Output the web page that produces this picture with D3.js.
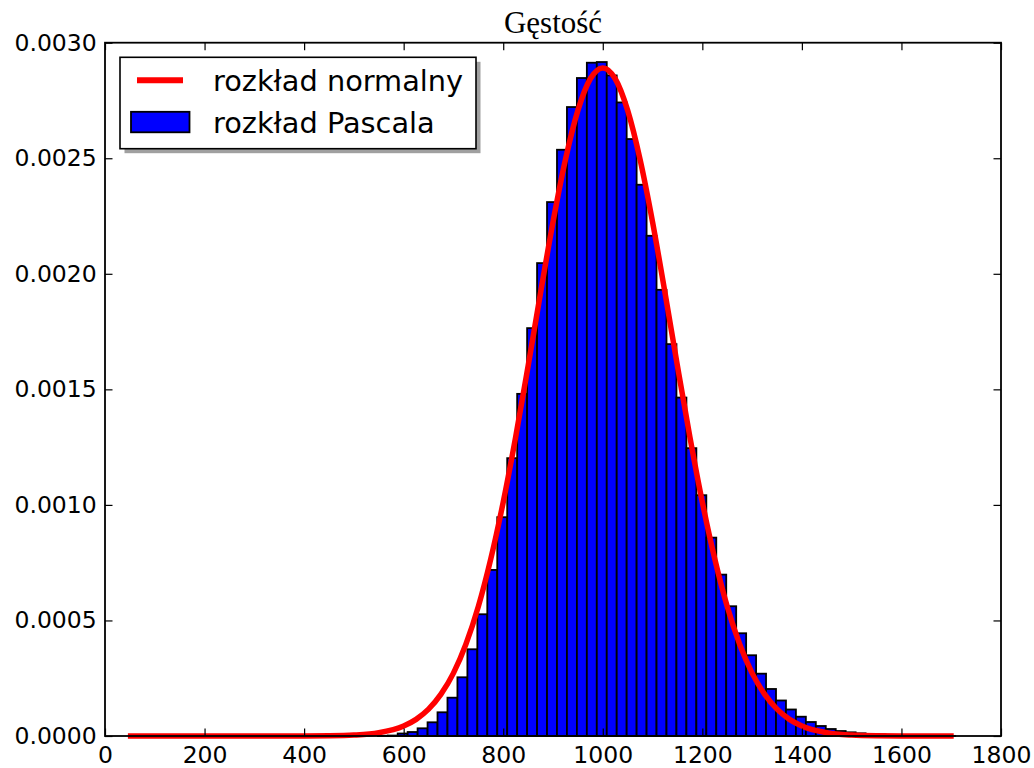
<!DOCTYPE html>
<html lang="pl">
  <head>
    <title>Gęstość</title>
    <meta charset="utf-8" />
    <script src="https://d3js.org/d3.v7.min.js"></script>
    <style>
      body { margin: 0; background: #ffffff; }
      text { font-family: "DejaVu Sans", sans-serif; }
    </style>
  </head>
  <body>
    <svg width="1034" height="768" xmlns="http://www.w3.org/2000/svg" id="target"></svg>
    <script>
        // histogram of the Pascal sample (density per bin)
        const binStart = 48;
        const binWidth = 20;
        const pascalDensity = [
          0, 0, 0, 0, 0, 0, 0, 0, 0, 0,
          0, 0, 0, 0, 0, 0, 0, 0, 0, 0,
          0, 0, 0, 0, 0, 0.000001, 0.000002, 0.0000108, 0.0000173, 0.0000333,
          0.0000593, 0.0001026, 0.0001658, 0.0002541, 0.0003753, 0.0005268, 0.0007186, 0.0009468, 0.0012022, 0.0014805,
          0.0017649, 0.0020463, 0.0023104, 0.0025368, 0.0027216, 0.0028472, 0.0029134, 0.0029164, 0.0028584, 0.0027415,
          0.0025831, 0.0023853, 0.0021645, 0.0019307, 0.0016957, 0.0014645, 0.0012455, 0.0010420, 0.0008584, 0.0006983,
          0.0005615, 0.0004446, 0.0003494, 0.0002697, 0.0002035, 0.0001537, 0.0001147, 0.0000835, 0.0000606, 0.0000433,
          0.0000303, 0.0000216, 0.0000160, 0.0000117, 0.0000087, 0.0000065, 0.0000043, 0.000003, 0.000002, 0.000001,
          0.0000005, 0.0000005, 0.0000005
        ];

        // red curve
        const normalX = [46, 300, 400, 450, 500, 550, 600, 625, 650, 675, 700, 725, 750, 775, 800, 825, 850, 875, 900, 925, 950, 975,
                         1000, 1025, 1050, 1075, 1100, 1125, 1150, 1175, 1200, 1225, 1250, 1275, 1300, 1325, 1350, 1375, 1400,
                         1450, 1500, 1550, 1600, 1705];
        const normalY = [0, 0, 0.0000002, 0.000001, 0.0000041, 0.0000142, 0.0000433, 0.000072, 0.000116, 0.000181, 0.000272, 0.000397,
                         0.000560, 0.000766, 0.001012, 0.001294, 0.001601, 0.001918, 0.002224, 0.002494, 0.002707, 0.002844,
                         0.002891, 0.002844, 0.002707, 0.002494, 0.002224, 0.001918, 0.001601, 0.001294, 0.001012, 0.000766,
                         0.000560, 0.000397, 0.000272, 0.000181, 0.000116, 0.000072, 0.0000433,
                         0.0000142, 0.0000041, 0.000001, 0.0000002, 0];

        const xTicks = [0, 200, 400, 600, 800, 1000, 1200, 1400, 1600, 1800];
        const yTicks = [0, 0.0005, 0.0010, 0.0015, 0.0020, 0.0025, 0.0030];
        const legendLabels = ["rozkład normalny", "rozkład Pascala"];
        const titleText = "Gęstość";

        const plot = { left: 105, right: 1001, top: 42.7, bottom: 736 };
        const tickFont = 23.5;
        const legendFont = 28.8;

        const svg = d3.select("#target");
        const x = d3.scaleLinear().domain([0, 1800]).range([plot.left, plot.right]);
        const y = d3.scaleLinear().domain([0, 0.003]).range([plot.bottom, plot.top]);

        svg.append("rect")
          .attr("x", 0).attr("y", 0).attr("width", 1034).attr("height", 768)
          .attr("fill", "#ffffff");

        // bars
        svg.append("g")
          .selectAll("rect.bar")
          .data(pascalDensity)
          .enter()
          .append("rect")
          .attr("class", "bar")
          .attr("x", (d, i) => x(binStart + i * binWidth))
          .attr("y", d => y(d))
          .attr("width", x(binWidth) - x(0))
          .attr("height", d => y(0) - y(d))
          .attr("fill", "#0000ff")
          .attr("stroke", "#000000")
          .attr("stroke-width", 1.8)
        ;

        // normal curve
        const pts = normalX.map((v, i) => [v, normalY[i]]);
        const line = d3.line()
          .x(d => x(d[0]))
          .y(d => y(d[1]))
          .curve(d3.curveMonotoneX);
        svg.append("path")
          .datum(pts)
          .attr("d", line)
          .attr("fill", "none")
          .attr("stroke", "#ff0000")
          .attr("stroke-width", 5.5)
          .attr("stroke-linejoin", "round")
        ;

        // axes, ticks pointing inward on all four sides
        const tickLen = 7.5;
        const axes = [
          { axis: d3.axisBottom(x).tickValues(xTicks).tickFormat(d3.format("d")).tickPadding(10.3), at: `translate(0,${plot.bottom})` },
          { axis: d3.axisTop(x).tickValues(xTicks).tickFormat(""), at: `translate(0,${plot.top})` },
          { axis: d3.axisLeft(y).tickValues(yTicks).tickFormat(d3.format(".4f")).tickPadding(8.3), at: `translate(${plot.left},0)` },
          { axis: d3.axisRight(y).tickValues(yTicks).tickFormat(""), at: `translate(${plot.right},0)` }
        ];
        axes.forEach(a => {
          const g = svg.append("g")
            .attr("transform", a.at)
            .call(a.axis.tickSize(-tickLen).tickSizeOuter(0));
          g.select(".domain").remove();
          g.selectAll(".tick line").attr("stroke", "#000000").attr("stroke-width", 1.2);
          g.selectAll(".tick text")
            .attr("font-family", "DejaVu Sans")
            .attr("font-size", tickFont)
            .attr("fill", "#000000");
        });

        // frame
        svg.append("rect")
          .attr("x", plot.left).attr("y", plot.top)
          .attr("width", plot.right - plot.left).attr("height", plot.bottom - plot.top)
          .attr("fill", "none").attr("stroke", "#000000").attr("stroke-width", 1.8);

        // title
        svg.append("text")
          .attr("x", (plot.left + plot.right) / 2)
          .attr("y", 33)
          .attr("text-anchor", "middle")
          .style("font-family", "'Liberation Serif', serif")
          .attr("font-size", 31)
          .text(titleText);

        // legend
        const lg = svg.append("g").attr("transform", "translate(120,57.3)");
        lg.append("rect")
          .attr("x", 4.5).attr("y", 4.5).attr("width", 356).attr("height", 91.4)
          .attr("fill", "#a0a0a0");
        lg.append("rect")
          .attr("x", 0).attr("y", 0).attr("width", 356).attr("height", 91.4)
          .attr("fill", "#ffffff").attr("stroke", "#000000").attr("stroke-width", 1.6);
        lg.append("line")
          .attr("x1", 17).attr("x2", 63).attr("y1", 23).attr("y2", 23)
          .attr("stroke", "#ff0000").attr("stroke-width", 6);
        lg.append("rect")
          .attr("x", 11).attr("y", 54.5).attr("width", 58.5).attr("height", 20.5)
          .attr("fill", "#0000ff").attr("stroke", "#000000").attr("stroke-width", 1.8);
        lg.selectAll("text.lbl")
          .data(legendLabels)
          .enter()
          .append("text")
          .attr("class", "lbl")
          .attr("x", 93)
          .attr("y", (d, i) => 23 + i * 42)
          .attr("dy", "0.36em")
          .attr("font-size", legendFont)
          .attr("fill", "#000000")
          .text(d => d);
    </script>
</body>
</html>
